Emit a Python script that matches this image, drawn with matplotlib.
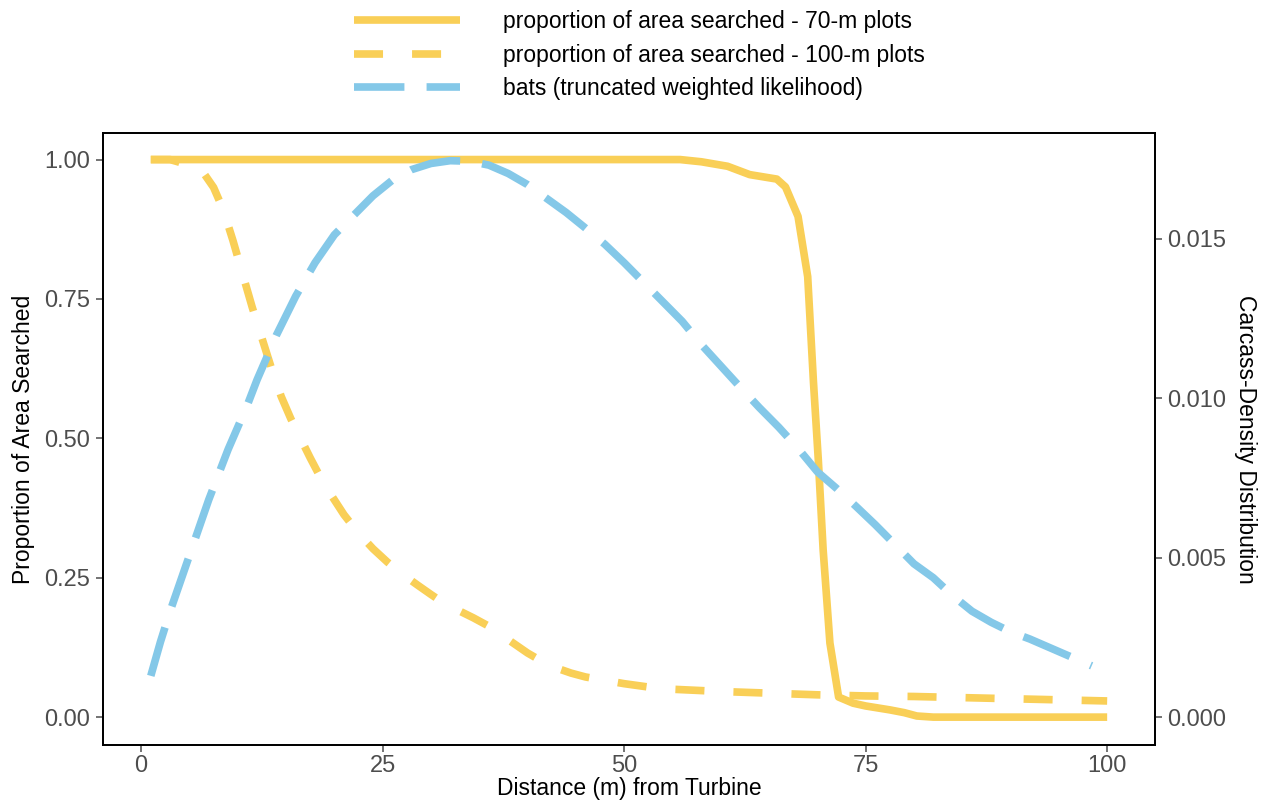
import matplotlib
matplotlib.use("Agg")
import matplotlib.pyplot as plt
from matplotlib.lines import Line2D

plt.rcParams.update({
    "font.family": ["Liberation Sans", "DejaVu Sans"],
    "font.size": 16,
})

# ---------------------------------------------------------------------------
# Data
# ---------------------------------------------------------------------------
# proportion of area searched, 70-m plots
x_70 = [1, 10, 20, 30, 40, 50, 55.8, 58, 60.7, 63, 65.8, 66.7, 68, 69, 69.6,
        70.1, 70.6, 71.3, 72.2, 73.7, 75, 77.5, 79, 80.3, 82, 90, 100]
p_70 = [1.0, 1.0, 1.0, 1.0, 1.0, 1.0, 1.0, 0.996, 0.988, 0.973, 0.965, 0.951,
        0.898, 0.79, 0.60, 0.461, 0.30, 0.133, 0.036, 0.025, 0.02, 0.013,
        0.008, 0.002, 0.0, 0.0, 0.0]

# proportion of area searched, 100-m plots
x_100 = [1, 3, 5, 6.5, 7.5, 8.5, 9.5, 10.5, 11.5, 12.5, 13.5, 14.5, 15.5,
         16.5, 17.5, 18.5, 19.5, 21, 22.5, 24, 25.5, 27, 28.6, 30, 31.2, 33,
         34.4, 36, 37, 38.5, 40, 41.5, 43, 44.5, 46, 48, 50, 52.5, 55, 60,
         65, 70, 75, 80, 85, 90, 95, 100]
p_100 = [1.0, 1.0, 0.99, 0.975, 0.95, 0.91, 0.855, 0.795, 0.735, 0.68, 0.625,
         0.575, 0.535, 0.5, 0.465, 0.432, 0.403, 0.363, 0.33, 0.302, 0.278,
         0.257, 0.237, 0.22, 0.206, 0.19, 0.178, 0.163, 0.151, 0.133, 0.115,
         0.1, 0.088, 0.079, 0.072, 0.066, 0.06, 0.054, 0.05, 0.046, 0.043,
         0.04, 0.038, 0.037, 0.035, 0.033, 0.031, 0.029]

# bats carcass-density distribution (truncated weighted likelihood),
# read in left-axis units and scaled to density below
x_bats = [1, 2, 3, 4, 5, 6, 7, 8, 9, 10, 11, 12, 13, 14, 15, 16, 17, 18, 19,
          20, 22, 24, 26, 28, 30, 32, 34, 36, 38, 40, 42, 44, 46, 48, 50, 52,
          54, 56, 58, 60, 62, 64, 66, 68, 70, 72, 74, 76, 78, 80, 82, 84, 86,
          88, 90, 92, 94, 96, 98.4]
rel_bats = [0.074, 0.135, 0.19, 0.24, 0.29, 0.34, 0.39, 0.435, 0.48, 0.52,
            0.56, 0.605, 0.645, 0.685, 0.72, 0.755, 0.785, 0.815, 0.84, 0.865,
            0.9, 0.935, 0.963, 0.982, 0.993, 0.998, 0.997, 0.99, 0.975, 0.955,
            0.93, 0.905, 0.877, 0.848, 0.815, 0.78, 0.745, 0.71, 0.668, 0.63,
            0.592, 0.555, 0.52, 0.482, 0.44, 0.41, 0.378, 0.345, 0.31, 0.275,
            0.25, 0.218, 0.19, 0.17, 0.153, 0.14, 0.125, 0.11, 0.092]

LABELS = [
    "proportion of area searched - 70-m plots",
    "proportion of area searched - 100-m plots",
    "bats (truncated weighted likelihood)",
]

YELLOW = "#F9CF57"
BLUE = "#84C8E8"
SEC_SCALE = 0.01748  # right axis units per left axis unit

d_bats = [v * SEC_SCALE for v in rel_bats]

# ---------------------------------------------------------------------------
# Figure
# ---------------------------------------------------------------------------
fig = plt.figure(figsize=(12.62, 8.0), dpi=100)
ax = fig.add_axes([0.0816, 0.06875, 0.8336, 0.76525])
ax2 = ax.twinx()

lw = 5.5
ax.plot(x_70, p_70, color=YELLOW, lw=lw, solid_capstyle="butt",
        solid_joinstyle="round")
ax.plot(x_100, p_100, color=YELLOW, lw=lw, dashes=(3.8, 3.8),
        dash_capstyle="butt")
ax2.plot(x_bats, d_bats, color=BLUE, lw=lw, dashes=(6.6, 2.9),
         dash_capstyle="butt")

ylo, yhi = -0.05, 1.048
ax.set_xlim(-3.95, 104.95)
ax.set_ylim(ylo, yhi)
ax2.set_ylim(ylo * SEC_SCALE, yhi * SEC_SCALE)

ax.set_xticks([0, 25, 50, 75, 100])
ax.set_yticks([0, 0.25, 0.5, 0.75, 1.0])
ax.set_yticklabels(["0.00", "0.25", "0.50", "0.75", "1.00"])
ax2.set_yticks([0, 0.005, 0.01, 0.015])
ax2.set_yticklabels(["0.000", "0.005", "0.010", "0.015"])

for a in (ax, ax2):
    a.tick_params(colors="#4D4D4D", labelsize=17, length=5, width=1.1,
                  labelcolor="#4D4D4D")
    for s in a.spines.values():
        s.set_linewidth(1.3)
        s.set_color("black")
ax.tick_params(axis="x", pad=2)
ax.tick_params(axis="y", pad=4)
ax2.tick_params(axis="y", pad=4)

ax.set_xlabel("Distance (m) from Turbine", fontsize=16.5, labelpad=0)
ax.set_ylabel("Proportion of Area Searched", fontsize=16.5, labelpad=7)
ax2.set_ylabel("Carcass-Density Distribution", fontsize=16.5, rotation=270,
               labelpad=22)

handles = [
    Line2D([], [], color=YELLOW, lw=lw, solid_capstyle="butt"),
    Line2D([], [], color=YELLOW, lw=lw, dashes=(3.8, 3.8),
           dash_capstyle="butt"),
    Line2D([], [], color=BLUE, lw=lw, dashes=(6.6, 2.9), dash_capstyle="butt"),
]
fig.legend(handles, LABELS, loc="upper center", bbox_to_anchor=(0.507, 1.013),
           frameon=False, fontsize=16.5, handlelength=4.6, handletextpad=1.9,
           labelspacing=0.45)

fig.savefig("out.png", dpi=100)
